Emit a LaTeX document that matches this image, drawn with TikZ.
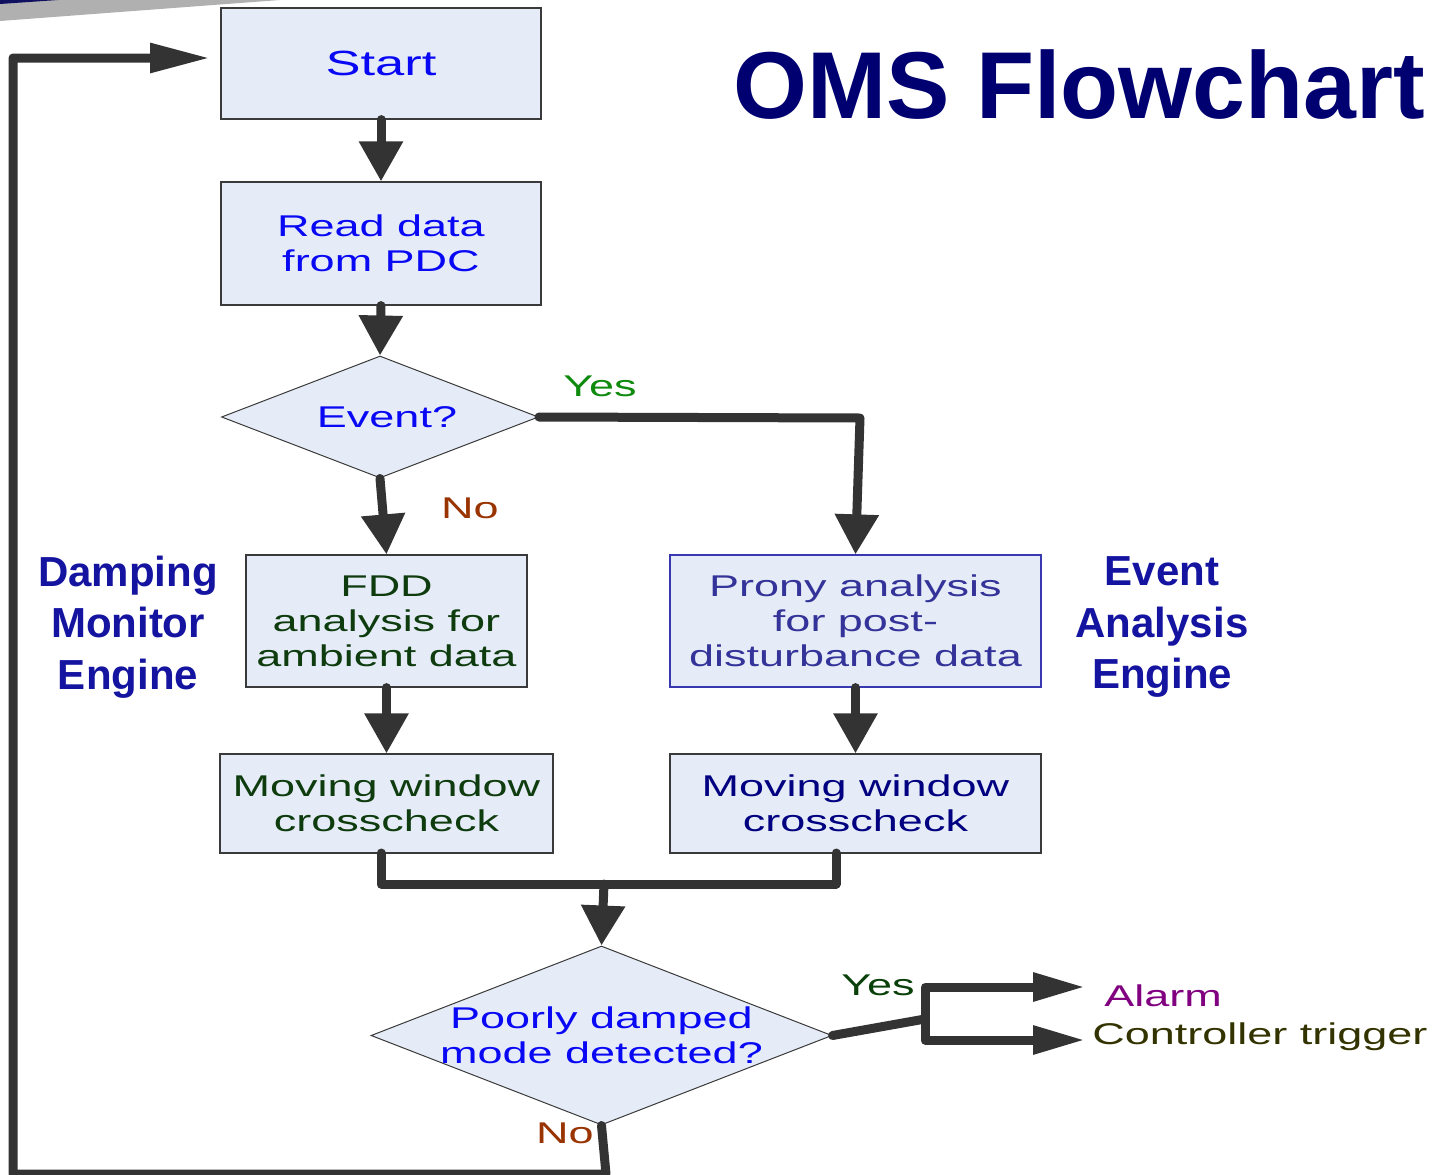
\documentclass[tikz,border=0pt]{standalone}
\usepackage{fontspec}
\setmainfont{Liberation Sans}
\newfontfamily\widesans[FakeStretch=1.5]{Liberation Sans}
\usetikzlibrary{arrows.meta,shapes.geometric}

\definecolor{boxfill}{HTML}{E6ECF7}
\definecolor{boxline}{HTML}{3A3A3A}
\definecolor{pronyline}{HTML}{3838B0}
\definecolor{conn}{HTML}{333333}
\definecolor{txtblue}{HTML}{0808F4}
\definecolor{txtgreen}{HTML}{0E3C0E}
\definecolor{pronytxt}{HTML}{333399}
\definecolor{navytxt}{HTML}{000080}
\definecolor{yesgreen}{HTML}{0E8A0E}
\definecolor{nobrown}{HTML}{993300}
\definecolor{yesdark}{HTML}{0A400A}
\definecolor{alarmtxt}{HTML}{800080}
\definecolor{ctrltxt}{HTML}{333300}
\definecolor{enginetxt}{HTML}{1414A0}
\definecolor{titletxt}{HTML}{000070}
\definecolor{bandgray}{HTML}{B0B0B0}
\definecolor{bandnavy}{HTML}{101060}

\tikzset{
  boxtext/.style={font=\widesans\fontsize{30}{35}\selectfont},
  box/.style={boxtext, draw=boxline, fill=boxfill, line width=1.2pt,
    inner sep=0pt, align=center},
  dia/.style={diamond, aspect=2.6, draw=boxline, fill=boxfill,
    line width=1pt, inner sep=0pt},
  lab/.style={boxtext, inner sep=0pt},
  engine/.style={font=\bfseries\fontsize{42}{51.5}\selectfont,
    text=enginetxt, align=center, inner sep=0pt},
  flow/.style={draw=conn, line width=9pt, line cap=round, line join=round},
  vtip/.style={flow, -{Triangle[length=40pt,width=42pt]}},
  htip/.style={flow, -{Triangle[length=60pt,width=28pt]}},
  atip/.style={flow, -{Triangle[length=52pt,width=27pt]}},
}

\begin{document}
\begin{tikzpicture}[x=1pt,y=-1pt]
\useasboundingbox (0,0) rectangle (1449,1175);
\fill[white] (0,0) rectangle (1449,1175);

% corner band
\fill[bandgray] (0,0) -- (280,0) -- (0,21) -- cycle;
\fill[bandnavy] (0,0) -- (58,0) -- (0,4) -- cycle;

% title and engine captions
\node[font=\bfseries\fontsize{95}{100}\selectfont, text=titletxt, inner sep=0pt]
  (title) at (1079,85) {OMS Flowchart};
\node[engine] (dme) at (128,627) {Damping\\Monitor\\Engine};
\node[engine] (eae) at (1162,627) {Event\\Analysis\\Engine};

% process boxes
\node[box, minimum width=320pt, minimum height=111pt, text=txtblue,
  font=\widesans\fontsize{35}{40}\selectfont]
  (start) at (381,63.5) {Start};
\node[box, minimum width=320pt, minimum height=123pt, text=txtblue]
  (read) at (381,243.5) {Read data\\from PDC};
\node[dia, minimum width=317pt, minimum height=122pt,
  label={[lab, text=txtblue]center:{\hspace*{14pt}Event?}}]
  (ev) at (380,417) {};
\node[box, minimum width=281pt, minimum height=132pt, text=txtgreen]
  (fdd) at (386.5,621) {FDD\\analysis for\\ambient data};
\node[box, draw=pronyline, minimum width=371pt, minimum height=132pt, text=pronytxt]
  (prony) at (855.5,621) {Prony analysis\\for post-\\disturbance data};
\node[box, minimum width=333pt, minimum height=99pt, text=txtgreen]
  (mwl) at (386.5,803.5) {Moving window\\crosscheck};
\node[box, minimum width=371pt, minimum height=99pt, text=navytxt]
  (mwr) at (855.5,803.5) {Moving window\\crosscheck};
\node[dia, minimum width=461pt, minimum height=179pt,
  label={[lab, text=txtblue, align=center]center:{Poorly damped\\mode detected?}}]
  (pd) at (601.5,1035.5) {};

% branch labels
\node[lab, text=yesgreen] (yes1) at (600,386) {Yes};
\node[lab, text=nobrown] (no1) at (470,508) {No};
\node[lab, text=yesdark] (yes2) at (878,985) {Yes};
\node[lab, text=alarmtxt] (alarm) at (1163,996) {Alarm};
\node[lab, text=ctrltxt] (ctrl) at (1260,1037) {Controller trigger};
\node[lab, text=nobrown] (no2) at (565,1133) {No};

% helper points
\coordinate (yescorner) at (860,418);
\coordinate (mwlout) at (381,853);
\coordinate (mwrout) at (836,853);
\coordinate (merge) at (604,884);
\coordinate (fork) at (925,1019);
\coordinate (alarmtip) at (1085,987);
\coordinate (ctrltip) at (1085,1040);
\coordinate (loopbot) at (606,1174);
\coordinate (loopleft) at (13,1174);
\coordinate (looptop) at (13,58);
\coordinate (starttip) at (210,58);

% connectors
\draw[vtip] (start.south) -- (read.north);
\draw[vtip] (read.south) -- (ev.north);
\draw[vtip] (ev.south) -- (fdd.north);
\draw[vtip] (ev.east) -- (yescorner) -- (prony.north);
\draw[vtip] (fdd.south) -- (mwl.north);
\draw[vtip] (prony.south) -- (mwr.north);
\draw[flow] (mwlout) |- (merge) -| (mwrout);
\draw[vtip] (merge) -- (pd.north);
\draw[flow] (pd.east) -- (fork);
\draw[atip] (fork) |- (alarmtip);
\draw[atip] (fork) |- (ctrltip);
\draw[htip] (pd.south) -- (loopbot) -- (loopleft) -- (looptop) -- (starttip);
\end{tikzpicture}
\end{document}
